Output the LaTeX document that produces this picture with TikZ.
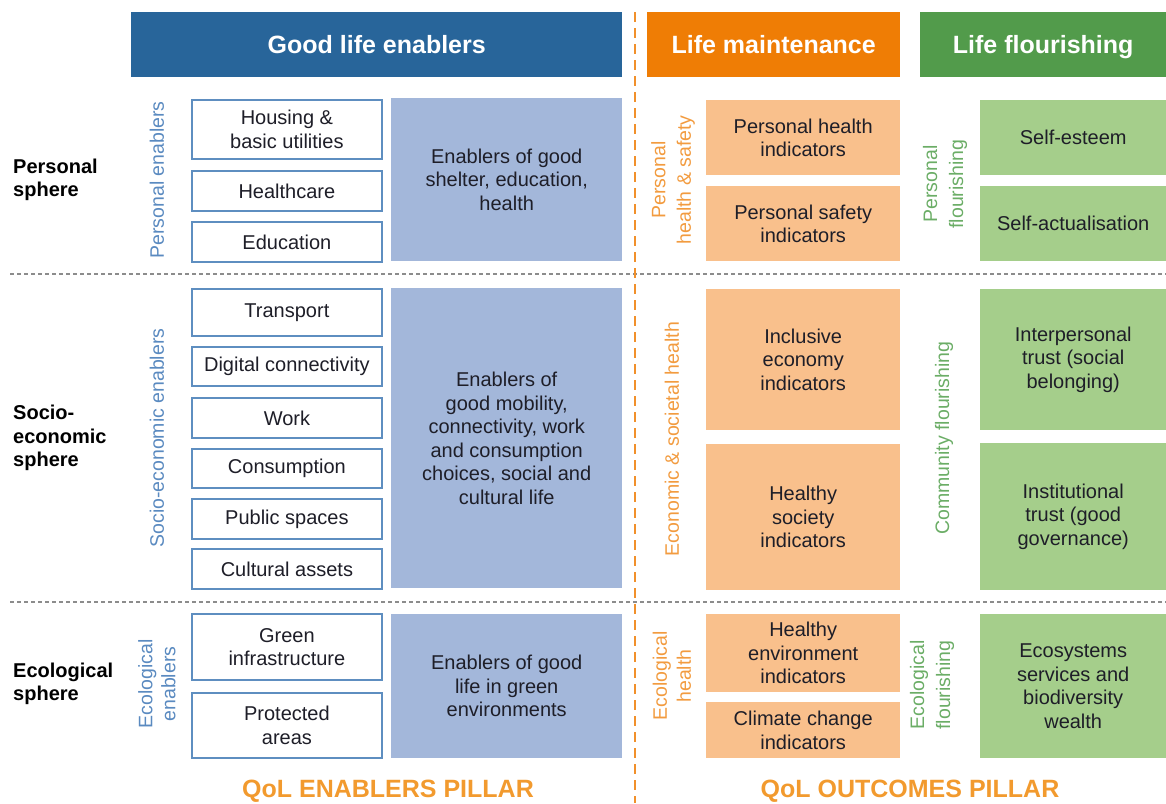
\documentclass[tikz,border=0pt]{standalone}
\usepackage{fontspec}
\setmainfont{Liberation Sans}
\definecolor{hblue}{HTML}{28659A}
\definecolor{horange}{HTML}{EF7D05}
\definecolor{hgreen}{HTML}{529B4B}
\definecolor{lav}{HTML}{A3B7DA}
\definecolor{lorange}{HTML}{F9C08C}
\definecolor{lgreen}{HTML}{A5CE8B}
\definecolor{bblue}{HTML}{5E8EC0}
\definecolor{tblue}{HTML}{5A8AC0}
\definecolor{torange}{HTML}{F29B3F}
\definecolor{tgreen}{HTML}{6BAD66}
\definecolor{txt}{HTML}{1E1E28}
\definecolor{pillar}{HTML}{F29A2E}
\newcommand{\bfnt}{\fontsize{20}{23.5}\selectfont}
\newcommand{\rfnt}{\fontsize{19.5}{24.5}\selectfont}
\begin{document}
\begin{tikzpicture}[x=1pt,y=-1pt,
 header/.style={fill=#1, text=white, font=\fontsize{25}{30}\selectfont\bfseries, anchor=north west, inner sep=0pt, text height=18pt, text depth=0pt},
 wbox/.style={draw=bblue, line width=1.8pt, fill=white, text=txt, font=\bfnt, align=center, anchor=north west, inner sep=0pt},
 cbox/.style={fill=#1, text=txt, font=\bfnt, align=center, anchor=north west, inner sep=0pt},
 rlabel/.style={rotate=90, text=#1, font=\rfnt, align=center, inner sep=0pt},
 sphere/.style={anchor=west, align=left, font=\bfnt\bfseries, text=black, inner sep=0pt},
 pillarlabel/.style={text=pillar, font=\fontsize{25}{30}\selectfont\bfseries, inner sep=0pt},
 sepline/.style={draw=gray!90, line width=2.2pt, dash pattern=on 4pt off 3pt},
 vsepline/.style={draw=horange!85, line width=2pt, dash pattern=on 10pt off 6pt}
]
\useasboundingbox (0,0) rectangle (1166,803);
% separators
\coordinate (s1a) at (10,274); \coordinate (s1b) at (1166,274);
\coordinate (s2a) at (10,602); \coordinate (s2b) at (1166,602);
\coordinate (va) at (635,12); \coordinate (vb) at (635,803);
\draw[sepline] (s1a) -- (s1b);
\draw[sepline] (s2a) -- (s2b);
\draw[vsepline] (va) -- (vb);
% headers
\node[header=hblue, minimum width=491pt, minimum height=65pt] (h1) at (131,12) {Good life enablers};
\node[header=horange, minimum width=253pt, minimum height=65pt] (h2) at (647,12) {Life maintenance};
\node[header=hgreen, minimum width=246pt, minimum height=65pt] (h3) at (920,12) {Life flourishing};
% spheres
\node[sphere] (sp1) at (13,180) {Personal\\sphere};
\node[sphere] (sp2) at (13,438) {Socio-\\economic\\sphere};
\node[sphere] (sp3) at (13,684) {Ecological\\sphere};
% rotated enabler labels
\node[rlabel=tblue] (r1) at (157,180) {Personal enablers};
\node[rlabel=tblue] (r2) at (157,438) {Socio-economic enablers};
\node[rlabel=tblue,font=\fontsize{19.5}{23}\selectfont] (r3) at (157,684) {Ecological\\enablers};
% white boxes
\node[wbox, minimum width=190pt, minimum height=59pt] (b1) at (191,99) {Housing \&\\basic utilities};
\node[wbox, minimum width=190pt, minimum height=40pt] (b2) at (191,170) {Healthcare};
\node[wbox, minimum width=190pt, minimum height=40pt] (b3) at (191,221) {Education};
\node[wbox, minimum width=190pt, minimum height=47pt] (b4) at (191,288) {Transport};
\node[wbox, minimum width=190pt, minimum height=39pt] (b5) at (191,346) {Digital connectivity};
\node[wbox, minimum width=190pt, minimum height=40pt] (b6) at (191,397) {Work};
\node[wbox, minimum width=190pt, minimum height=39pt] (b7) at (191,448) {Consumption};
\node[wbox, minimum width=190pt, minimum height=40pt] (b8) at (191,498) {Public spaces};
\node[wbox, minimum width=190pt, minimum height=40pt] (b9) at (191,548) {Cultural assets};
\node[wbox, minimum width=190pt, minimum height=66pt] (b10) at (191,613) {Green\\infrastructure};
\node[wbox, minimum width=190pt, minimum height=65pt] (b11) at (191,692) {Protected\\areas};
% lavender boxes
\node[cbox=lav, minimum width=231pt, minimum height=163pt] (l1) at (391,98) {Enablers of good\\shelter, education,\\health};
\node[cbox=lav, minimum width=231pt, minimum height=300pt] (l2) at (391,288) {Enablers of\\good mobility,\\connectivity, work\\and consumption\\choices, social and\\cultural life};
\node[cbox=lav, minimum width=231pt, minimum height=144pt] (l3) at (391,614) {Enablers of good\\life in green\\environments};
% orange rotated labels
\node[rlabel=torange, font=\fontsize{19.5}{25.5}\selectfont] (o1) at (673,180) {Personal\\health \& safety};
\node[rlabel=torange] (o2) at (672,439) {Economic \& societal health};
\node[rlabel=torange, font=\fontsize{19.5}{24}\selectfont] (o3) at (672,676) {Ecological\\health};
% orange boxes
\node[cbox=lorange, minimum width=194pt, minimum height=75pt] (m1) at (706,100) {Personal health\\indicators};
\node[cbox=lorange, minimum width=194pt, minimum height=75pt] (m2) at (706,186) {Personal safety\\indicators};
\node[cbox=lorange, minimum width=194pt, minimum height=141pt] (m3) at (706,289) {Inclusive\\economy\\indicators};
\node[cbox=lorange, minimum width=194pt, minimum height=146pt] (m4) at (706,444) {Healthy\\society\\indicators};
\node[cbox=lorange, minimum width=194pt, minimum height=78pt] (m5) at (706,614) {Healthy\\environment\\indicators};
\node[cbox=lorange, minimum width=194pt, minimum height=56pt] (m6) at (706,702) {Climate change\\indicators};
% green rotated labels
\node[rlabel=tgreen, font=\fontsize{19.5}{26}\selectfont] (g1) at (945,184) {Personal\\flourishing};
\node[rlabel=tgreen] (g2) at (944,438) {Community flourishing};
\node[rlabel=tgreen, font=\fontsize{19.5}{26}\selectfont] (g3) at (932,685) {Ecological\\flourishing};
% green boxes
\node[cbox=lgreen, minimum width=186pt, minimum height=75pt] (f1) at (980,100) {Self-esteem};
\node[cbox=lgreen, minimum width=186pt, minimum height=75pt] (f2) at (980,186) {Self-actualisation};
\node[cbox=lgreen, minimum width=186pt, minimum height=141pt] (f3) at (980,289) {Interpersonal\\trust (social\\belonging)};
\node[cbox=lgreen, minimum width=186pt, minimum height=147pt] (f4) at (980,443) {Institutional\\trust (good\\governance)};
\node[cbox=lgreen, minimum width=186pt, minimum height=144pt] (f5) at (980,614) {Ecosystems\\services and\\biodiversity\\wealth};
% pillars
\node[pillarlabel] (p1) at (388,791) {QoL ENABLERS PILLAR};
\node[pillarlabel] (p2) at (910,791) {QoL OUTCOMES PILLAR};
\end{tikzpicture}
\end{document}
